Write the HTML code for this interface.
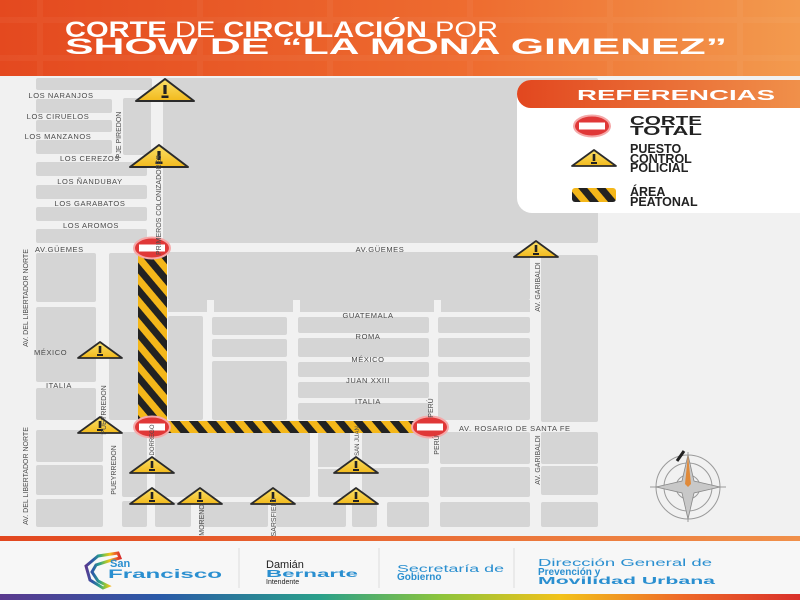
<!DOCTYPE html>
<html><head><meta charset="utf-8"><style>
html,body{margin:0;padding:0;width:800px;height:600px;overflow:hidden;background:#f2f2f2}
svg{display:block}
.l{font-family:"Liberation Sans",sans-serif;font-size:7.5px;fill:#4a4a4a;letter-spacing:.6px}
.v{font-family:"Liberation Sans",sans-serif;font-size:7px;fill:#4a4a4a}
</style></head><body>
<svg width="800" height="600" viewBox="0 0 800 600" xmlns="http://www.w3.org/2000/svg">
<defs>
<linearGradient id="hg" x1="0" x2="1" y1="0" y2="0"><stop offset="0" stop-color="#e4491f"/><stop offset=".6" stop-color="#ee6d30"/><stop offset="1" stop-color="#f39a4e"/></linearGradient>
<linearGradient id="lg" x1="0" x2="1"><stop offset="0" stop-color="#e2471f"/><stop offset="1" stop-color="#f0904a"/></linearGradient>
<linearGradient id="rb" x1="0" x2="1"><stop offset="0" stop-color="#5b3a8e"/><stop offset=".2" stop-color="#2a5aa8"/><stop offset=".4" stop-color="#2aa08a"/><stop offset=".55" stop-color="#8cc43c"/><stop offset=".7" stop-color="#f2c21a"/><stop offset=".85" stop-color="#ee6a28"/><stop offset="1" stop-color="#d9302a"/></linearGradient>
<linearGradient id="ty" x1="0" x2="0" y1="0" y2="1"><stop offset="0" stop-color="#fbe169"/><stop offset="1" stop-color="#f2b91c"/></linearGradient>
<pattern id="st" width="14" height="14" patternUnits="userSpaceOnUse" patternTransform="rotate(-40)"><rect width="14" height="14" fill="#f4b71a"/><rect width="7" height="14" fill="#222"/></pattern>
<g id="tri"><polygon points="0,-22 -29,0 29,0" fill="url(#ty)" stroke="#2b2b2b" stroke-width="2" stroke-linejoin="round"/><rect x="-1.6" y="-16" width="3.2" height="9" fill="#222"/><rect x="-3.5" y="-5.5" width="7" height="2.5" fill="#222"/></g>
<g id="ts"><polygon points="0,-16 -22,0 22,0" fill="url(#ty)" stroke="#2b2b2b" stroke-width="1.8" stroke-linejoin="round"/><rect x="-1.3" y="-12" width="2.6" height="7" fill="#222"/><rect x="-3" y="-4" width="6" height="2" fill="#222"/></g>
<g id="rc"><ellipse cx="0" cy="0" rx="18" ry="10.5" fill="#e03838" stroke="#f5a8a8" stroke-width="2"/><rect x="-13" y="-3.5" width="26" height="7" fill="#fff"/></g>
</defs>

<rect x="0" y="0" width="800" height="76" fill="url(#hg)"/>
<g stroke="#fff" stroke-opacity=".04" stroke-width="6" fill="none">
<path d="M40 0V76M200 0V76M330 0V76M470 0V76M610 0V76M740 0V76M0 20H800M0 58H800"/></g>
<text x="65" y="37" font-family="Liberation Sans,sans-serif" font-size="22" fill="#fff" textLength="433" lengthAdjust="spacingAndGlyphs"><tspan font-weight="bold">CORTE</tspan> DE <tspan font-weight="bold">CIRCULACIÓN</tspan> POR</text>
<text x="65" y="54" font-family="Liberation Sans,sans-serif" font-size="22" font-weight="bold" fill="#fff" textLength="662" lengthAdjust="spacingAndGlyphs">SHOW DE “LA MONA GIMENEZ”</text>

<rect x="0" y="76" width="800" height="460" fill="#f1f1f1"/>
<g fill="#d5d5d5">
<rect x="36" y="78" width="116" height="12" rx="2"/>
<rect x="36" y="99" width="76" height="14" rx="2"/>
<rect x="36" y="120" width="76" height="12" rx="2"/>
<rect x="36" y="140" width="76" height="14" rx="2"/>
<rect x="123" y="98" width="28" height="57" rx="2"/>
<rect x="36" y="162" width="111" height="14" rx="2"/>
<rect x="36" y="185" width="111" height="14" rx="2"/>
<rect x="36" y="207" width="111" height="14" rx="2"/>
<rect x="36" y="229" width="111" height="14" rx="2"/>
<rect x="163" y="78" width="435" height="165" rx="2"/>
<rect x="36" y="253" width="60" height="49" rx="2"/>
<rect x="36" y="307" width="60" height="75" rx="2"/>
<rect x="36" y="388" width="60" height="32" rx="2"/>
<rect x="109" y="253" width="29" height="167" rx="2"/>
<rect x="168" y="252" width="362" height="48" rx="2"/>
<rect x="168" y="300" width="39" height="12"/><rect x="214" y="300" width="79" height="12"/><rect x="300" y="300" width="134" height="12"/><rect x="441" y="300" width="89" height="12"/>
<rect x="541" y="255" width="57" height="167" rx="2"/>
<rect x="168" y="316" width="35" height="104" rx="2"/>
<rect x="212" y="317" width="75" height="18" rx="2"/>
<rect x="212" y="339" width="75" height="18" rx="2"/>
<rect x="212" y="361" width="75" height="59" rx="2"/>
<rect x="298" y="317" width="131" height="16" rx="2"/>
<rect x="298" y="338" width="131" height="19" rx="2"/>
<rect x="298" y="362" width="131" height="15" rx="2"/>
<rect x="298" y="382" width="131" height="16" rx="2"/>
<rect x="298" y="403" width="131" height="17" rx="2"/>
<rect x="438" y="317" width="92" height="16" rx="2"/>
<rect x="438" y="338" width="92" height="19" rx="2"/>
<rect x="438" y="362" width="92" height="15" rx="2"/>
<rect x="438" y="382" width="92" height="38" rx="2"/>
<rect x="36" y="430" width="67" height="32" rx="2"/>
<rect x="36" y="465" width="67" height="30" rx="2"/>
<rect x="36" y="499" width="67" height="28" rx="2"/>
<rect x="122" y="432" width="25" height="65" rx="2"/>
<rect x="122" y="501" width="25" height="26" rx="2"/>
<rect x="155" y="432" width="155" height="65" rx="2"/>
<rect x="318" y="432" width="32" height="65" rx="2"/>
<rect x="362" y="432" width="67" height="32" rx="2"/>
<rect x="362" y="468" width="67" height="29" rx="2"/>
<rect x="440" y="432" width="90" height="32" rx="2"/>
<rect x="440" y="467" width="90" height="30" rx="2"/>
<rect x="440" y="502" width="90" height="25" rx="2"/>
<rect x="541" y="432" width="57" height="32" rx="2"/>
<rect x="541" y="466" width="57" height="29" rx="2"/>
<rect x="541" y="502" width="57" height="25" rx="2"/>
<rect x="155" y="502" width="36" height="25" rx="2"/>
<rect x="199" y="502" width="69" height="25" rx="2"/>
<rect x="276" y="502" width="70" height="25" rx="2"/>
<rect x="352" y="502" width="25" height="25" rx="2"/>
<rect x="387" y="502" width="42" height="25" rx="2"/>
</g>
<rect x="312" y="467" width="40" height="2" fill="#f1f1f1"/>

<rect x="138" y="254" width="29" height="170" fill="url(#st)"/>
<rect x="152" y="421" width="266" height="12" fill="url(#st)"/>

<path d="M532 80H800V213H532A15 15 0 0 1 517 198V95A15 15 0 0 1 532 80Z" fill="#fff"/>
<path d="M532 80H800V108H532A14 14 0 0 1 517 94A14 14 0 0 1 532 80Z" fill="url(#lg)"/>
<text x="676" y="100" text-anchor="middle" font-family="Liberation Sans,sans-serif" font-weight="bold" font-size="15" fill="#fff" textLength="198" lengthAdjust="spacingAndGlyphs">REFERENCIAS</text>
<use href="#rc" x="592" y="126"/>
<g font-family="Liberation Sans,sans-serif" font-size="12.5" fill="#222" font-weight="bold">
<text x="630" y="125" textLength="72" lengthAdjust="spacingAndGlyphs">CORTE</text>
<text x="630" y="135" textLength="72" lengthAdjust="spacingAndGlyphs">TOTAL</text>
<text x="630" y="153">PUESTO</text>
<text x="630" y="163">CONTROL</text>
<text x="630" y="172">POLICIAL</text>
<text x="630" y="196">ÁREA</text>
<text x="630" y="206">PEATONAL</text>
</g>
<use href="#ts" x="594" y="166"/>
<rect x="572" y="188" width="44" height="14" rx="3" fill="url(#st)"/>

<use href="#rc" x="152" y="248"/>
<use href="#rc" x="152" y="427"/>
<use href="#rc" x="430" y="427"/>

<use href="#tri" x="165" y="101"/>
<use href="#tri" x="159" y="167"/>
<use href="#ts" x="536" y="257"/>
<use href="#ts" x="100" y="358"/>
<use href="#ts" x="100" y="433"/>
<use href="#ts" x="152" y="473"/>
<use href="#ts" x="356" y="473"/>
<use href="#ts" x="152" y="504"/>
<use href="#ts" x="200" y="504"/>
<use href="#ts" x="273" y="504"/>
<use href="#ts" x="356" y="504"/>

<g class="l">
<text x="61" y="98" text-anchor="middle">LOS NARANJOS</text>
<text x="58" y="119" text-anchor="middle">LOS CIRUELOS</text>
<text x="58" y="139" text-anchor="middle">LOS MANZANOS</text>
<text x="90" y="161" text-anchor="middle">LOS CEREZOS</text>
<text x="90" y="184" text-anchor="middle">LOS ÑANDUBAY</text>
<text x="90" y="206" text-anchor="middle">LOS GARABATOS</text>
<text x="91" y="228" text-anchor="middle">LOS AROMOS</text>
<text x="35" y="252">AV.GÜEMES</text>
<text x="380" y="252" text-anchor="middle">AV.GÜEMES</text>
<text x="368" y="318" text-anchor="middle">GUATEMALA</text>
<text x="368" y="339" text-anchor="middle">ROMA</text>
<text x="368" y="362" text-anchor="middle">MÉXICO</text>
<text x="368" y="383" text-anchor="middle">JUAN XXIII</text>
<text x="368" y="404" text-anchor="middle">ITALIA</text>
<text x="34" y="355">MÉXICO</text>
<text x="46" y="388">ITALIA</text>
<text x="459" y="431">AV. ROSARIO DE SANTA FE</text>
</g>
<g class="v" text-anchor="middle">
<text transform="translate(121 135) rotate(-90)">PJE PIREDON</text>
<text transform="translate(161 205) rotate(-90)">PRIMEROS COLONIZADORES</text>
<text transform="translate(28 298) rotate(-90)">AV. DEL LIBERTADOR NORTE</text>
<text transform="translate(106 410) rotate(-90)">PUEYRREDON</text>
<text transform="translate(540 287) rotate(-90)">AV. GARIBALDI</text>
<text transform="translate(433 408) rotate(-90)">PERÚ</text>
<text transform="translate(154 440) rotate(-90)" font-size="6">DORREGO</text>
<text transform="translate(359 441) rotate(-90)" font-size="6">SAN JUAN</text>
<text transform="translate(439 445) rotate(-90)">PERÚ</text>
<text transform="translate(116 470) rotate(-90)">PUEYRREDON</text>
<text transform="translate(28 476) rotate(-90)">AV. DEL LIBERTADOR NORTE</text>
<text transform="translate(540 460) rotate(-90)">AV. GARIBALDI</text>
<text transform="translate(204 520) rotate(-90)">MORENO</text>
<text transform="translate(276 520) rotate(-90)">V.SARSFIELD</text>
</g>

<g fill="none" stroke="#9a9a9a" stroke-width="1">
<circle cx="688" cy="487" r="32"/><circle cx="688" cy="487" r="24"/><circle cx="688" cy="487" r="12"/>
<path d="M688 452V522M650 487H726"/>
</g>
<polygon points="688,455 694,481 720,487 694,493 688,519 682,493 656,487 682,481" fill="#c8c8c8" stroke="#888" stroke-width=".8"/>
<polygon points="688,455 691,484 688,487 685,484" fill="#e08a3a"/>
<path d="M677 461L684 451" stroke="#222" stroke-width="3"/>

<rect x="0" y="536" width="800" height="5" fill="url(#lg)"/>
<rect x="0" y="541" width="800" height="53" fill="#f7f7f7"/>
<rect x="0" y="594" width="800" height="6" fill="url(#rb)"/>
<path d="M98 556L118 553L120 558L112 560L96 565L92 572L98 581L108 586L103 588L90 580L86 566Z" fill="none" stroke="url(#rb)" stroke-width="3"/>
<g font-family="Liberation Sans,sans-serif" font-weight="bold" fill="#2a8fd0">
<text x="110" y="567" font-size="11">San</text>
<text x="108" y="578" font-size="12" textLength="114" lengthAdjust="spacingAndGlyphs">Francisco</text>
</g>
<g stroke="#dedede"><path d="M239 548V588M379 548V588M514 548V588"/></g>
<text x="266" y="568" font-family="Liberation Sans,sans-serif" font-size="11" fill="#222">Damián</text>
<text x="266" y="577" font-family="Liberation Sans,sans-serif" font-weight="bold" font-size="10.5" fill="#2a8fd0" textLength="92" lengthAdjust="spacingAndGlyphs">Bernarte</text>
<text x="266" y="584" font-family="Liberation Sans,sans-serif" font-size="7" fill="#222">Intendente</text>
<text x="397" y="572" font-family="Liberation Sans,sans-serif" font-size="10" fill="#2a8fd0" textLength="107" lengthAdjust="spacingAndGlyphs">Secretaría de</text>
<text x="397" y="580" font-family="Liberation Sans,sans-serif" font-weight="bold" font-size="10" fill="#2a8fd0">Gobierno</text>
<text x="538" y="566" font-family="Liberation Sans,sans-serif" font-size="10" fill="#2a8fd0" textLength="174" lengthAdjust="spacingAndGlyphs">Dirección General de</text>
<text x="538" y="575" font-family="Liberation Sans,sans-serif" font-weight="bold" font-size="10" fill="#2a8fd0">Prevención y</text>
<text x="538" y="584" font-family="Liberation Sans,sans-serif" font-weight="bold" font-size="10" fill="#2a8fd0" textLength="177" lengthAdjust="spacingAndGlyphs">Movilidad Urbana</text>
</svg>
</body></html>
